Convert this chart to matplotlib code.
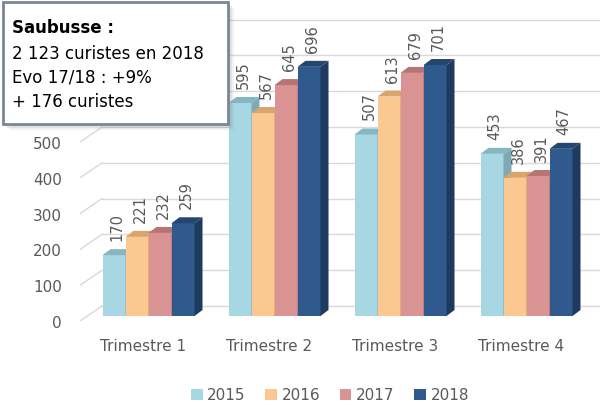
import matplotlib.pyplot as plt
import numpy as np
from matplotlib.patches import Polygon, Rectangle, Patch

# données
trimestres = ['Trimestre 1', 'Trimestre 2', 'Trimestre 3', 'Trimestre 4']
annees = ['2015', '2016', '2017', '2018']
v2015 = [170, 595, 507, 453]
v2016 = [221, 567, 613, 386]
v2017 = [232, 645, 679, 391]
v2018 = [259, 696, 701, 467]
yticks = [0, 100, 200, 300, 400, 500, 600, 700, 800]
# 600-800 sont cachés derrière l'encadré
ylabels = ['0', '100', '200', '300', '400', '500', '', '', '']

series = [v2015, v2016, v2017, v2018]
face = ['#A7D7E2', '#FBC891', '#D99393', '#30598D']
top = ['#86B6C2', '#D9A56E', '#B87474', '#24466F']
side = ['#7FAAB5', '#C9955F', '#A96565', '#1E3A5E']
grey = '#595959'

W, H = 602, 406
fig = plt.figure(figsize=(W / 100, H / 100), dpi=100)
ax = fig.add_axes([80 / W, 84 / H, 520 / W, 304.3 / H])
xmin, xmax = -0.504, 3.623
ymax = 850
ax.set_xlim(xmin, xmax)
ax.set_ylim(0, ymax)
for s in ax.spines.values():
    s.set_visible(False)

px_x = 520 / (xmax - xmin)   # pixels par unité x
px_y = 304.3 / ymax          # pixels par unité y

# profondeur (effet 3D)
back_dx, back_dy = 22 / px_x, 15 / px_y
bar_dx, bar_dy = 5 / px_x, 5 / px_y
dep_dx, dep_dy = 8 / px_x, 6 / px_y

# quadrillage du fond
for t in yticks:
    ax.plot([xmin, xmin + back_dx], [t, t + back_dy], color='#D9D9D9', lw=1, zorder=1)
    ax.plot([xmin + back_dx, xmax], [t + back_dy, t + back_dy], color='#D9D9D9', lw=1, zorder=1)

bw = 23 / px_x
x = np.arange(len(trimestres))
z = 2
for i in range(len(trimestres)):
    for k, vals in enumerate(series):
        x0 = i + bar_dx + (k - 2) * bw
        x1 = x0 + bw
        b = bar_dy
        v = vals[i]
        ax.bar(x0, v, width=bw, bottom=b, align='edge', color=face[k], lw=0, zorder=z)
        ax.add_patch(Polygon([(x0, b + v), (x1, b + v), (x1 + dep_dx, b + v + dep_dy),
                              (x0 + dep_dx, b + v + dep_dy)], closed=True,
                             fc=top[k], lw=0, zorder=z))
        ax.add_patch(Polygon([(x1, b), (x1, b + v), (x1 + dep_dx, b + v + dep_dy),
                              (x1 + dep_dx, b + dep_dy)], closed=True,
                             fc=side[k], lw=0, zorder=z))
        z += 1
        ax.text(x0 + bw / 2 + 3 / px_x, b + v + 15 / px_y, str(v), rotation=90,
                ha='center', va='bottom', fontsize=10.5, color=grey, zorder=50)

ax.set_yticks(yticks)
ax.set_yticklabels(ylabels)
ax.set_xticks(x)
ax.set_xticklabels(trimestres)
ax.tick_params(axis='y', length=0, pad=13, labelsize=11, labelcolor=grey)
ax.tick_params(axis='x', length=0, pad=12, labelsize=11, labelcolor=grey)

handles = [Patch(facecolor=c, edgecolor='none') for c in face]
fig.legend(handles, annees, loc='center', bbox_to_anchor=(330 / W, 1 - 396 / H),
           ncol=4, frameon=False, fontsize=11, labelcolor=grey,
           handlelength=0.75, handleheight=0.75, handletextpad=0.3, columnspacing=1.3)

# encadré
def fx(p):
    return p / W

def fy(p):
    return 1 - p / H

for off, a in [(6, 0.10), (4, 0.15), (2, 0.2)]:
    fig.patches.append(Rectangle((fx(3 + off), fy(125 + off)), fx(225), 122 / H,
                                 transform=fig.transFigure, fc='#808080', alpha=a,
                                 lw=0, zorder=5))
fig.patches.append(Rectangle((fx(3), fy(125)), fx(225), 122 / H, transform=fig.transFigure,
                             fc='white', ec='#7A8794', lw=2, zorder=6))
fig.text(fx(12), fy(33), 'Saubusse :', fontsize=12, fontweight='bold', color='black', zorder=7)
fig.text(fx(12), fy(59), '2 123 curistes en 2018', fontsize=12, color='black', zorder=7)
fig.text(fx(12), fy(83), 'Evo 17/18 : +9%', fontsize=12, color='black', zorder=7)
fig.text(fx(12), fy(107), '+ 176 curistes', fontsize=12, color='black', zorder=7)

fig.savefig('out.png', dpi=100)
